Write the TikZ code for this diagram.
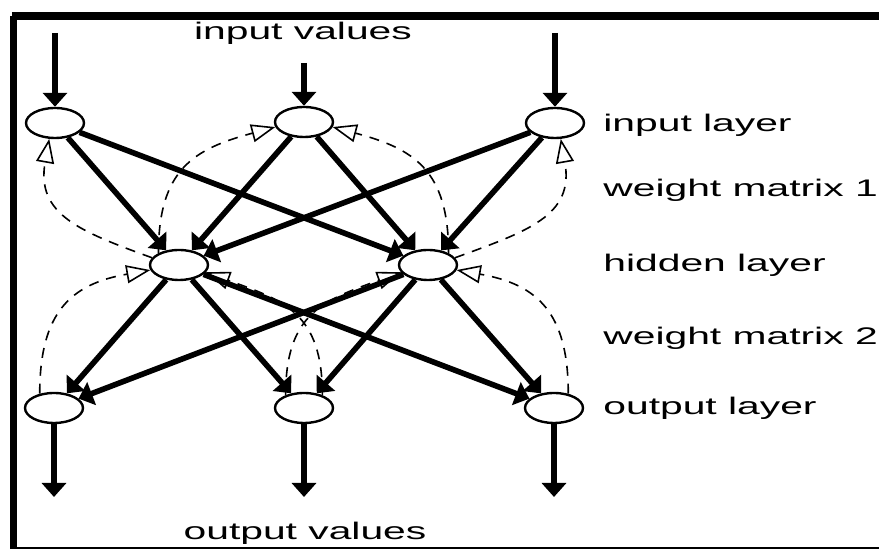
\documentclass[tikz,border=0pt]{standalone}
\usepackage{fontspec}
\setmainfont{Liberation Sans}
\usepackage{graphicx}
\usetikzlibrary{arrows.meta,shapes.geometric}
\tikzset{
  neuron/.style={draw, ellipse, line width=1.2pt, minimum width=29pt, minimum height=15pt, inner sep=0pt},
  weight/.style={line width=2.8pt, -{Triangle[length=7pt,width=12pt]}},
  feedback/.style={line width=0.8pt, dash pattern=on 5pt off 4pt, looseness=1.25,
    -{Triangle[open,length=12pt,width=9pt,line width=0.8pt]}},
  lbl/.style={font=\fontsize{12}{14}\selectfont, inner sep=0pt}
}
\newcommand{\wtxt}[1]{\scalebox{1.7}[1]{#1}}

\begin{document}
\begin{tikzpicture}[x=0.5pt,y=0.5pt]
    \useasboundingbox (0,0) rectangle (879,551);
    % Frame
    \draw[line width=3.5pt] (13.5,2) -- (13.5,535);
    \draw[line width=4pt] (11.75,535) -- (879,535);
    \draw[line width=1pt] (13.5,2.5) -- (879,2.5);

    % Neurons
    \node[neuron] (i1) at (55,428) {};
    \node[neuron] (i2) at (304,429) {};
    \node[neuron] (i3) at (555,428) {};
    \node[neuron] (h1) at (179,286) {};
    \node[neuron] (h2) at (428,286) {};
    \node[neuron] (o1) at (54,143) {};
    \node[neuron] (o2) at (304,143) {};
    \node[neuron] (o3) at (554,143) {};

    % Input and output ends
    \coordinate (x1) at (55,518);
    \coordinate (x2) at (304,488);
    \coordinate (x3) at (555,518);
    \coordinate (y1) at (54,54);
    \coordinate (y2) at (304,54);
    \coordinate (y3) at (554,54);

    % Forward connections
    \foreach \i in {1,2,3} {
        \draw[weight] (x\i) -- (i\i);
        \draw[weight] (o\i) -- (y\i);
        \foreach \j in {1,2} {
            \draw[weight] (i\i) -- (h\j);
            \draw[weight] (h\j) -- (o\i);
        }
    }

    % Feedback arcs
    \draw[feedback] (h1.165) to[out=160,in=-100] (i1.250);
    \draw[feedback] (h1.150) to[out=90,in=195] (i2.190);
    \draw[feedback] (h2.30) to[out=90,in=-15] (i2.-10);
    \draw[feedback] (h2.15) to[out=20,in=-80] (i3.-70);
    \draw[feedback] (o1.135) to[out=90,in=190] (h1.190);
    \draw[feedback] (o3.45) to[out=90,in=-10] (h2.-10);
    \draw[feedback] (o2.145) to[out=90,in=200] (h2.195);
    \draw[feedback] (o2.35) to[out=90,in=-20] (h1.-15);

    % Labels
    \node[lbl, anchor=base] (inval) at (303,511) {\wtxt{input values}};
    \node[lbl, anchor=base] (outval) at (305,11) {\wtxt{output values}};
    \node[lbl, anchor=west] (linput) at (603,426) {\wtxt{input layer}};
    \node[lbl, anchor=west] (lwone) at (603,361) {\wtxt{weight matrix 1}};
    \node[lbl, anchor=west] (lhidden) at (603,286) {\wtxt{hidden layer}};
    \node[lbl, anchor=west] (lwtwo) at (603,213) {\wtxt{weight matrix 2}};
    \node[lbl, anchor=west] (loutput) at (603,143) {\wtxt{output layer}};
\end{tikzpicture}
\end{document}
